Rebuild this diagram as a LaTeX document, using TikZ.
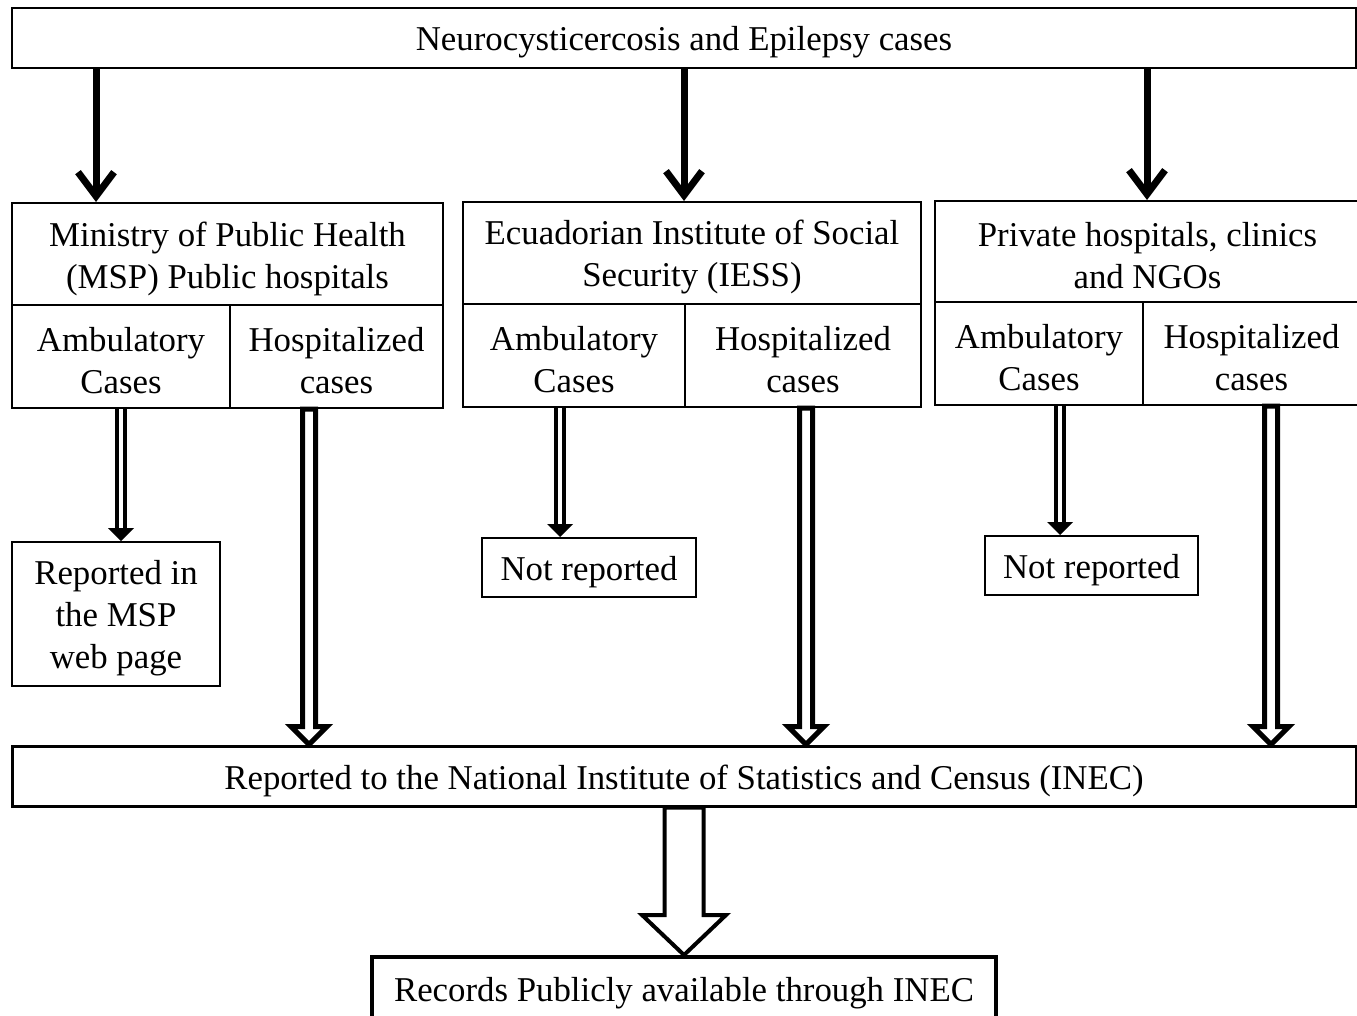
\documentclass[tikz,border=0pt]{standalone}
\usepackage{fontspec}
\setmainfont{Liberation Serif}
\usetikzlibrary{arrows.meta,calc}
\newcommand\diafont{\fontsize{34.8}{42}\selectfont}
% #1 start, #2 end, #3 half shaft, #4 half head, #5 head length, #6 style
\newcommand\blockarrow[6]{%
  \draw[#6] let \p1=(#1), \p2=(#2) in
    (\x1-#3pt,\y1) -- (\x1-#3pt,\y2+#5pt) -- (\x1-#4pt,\y2+#5pt) -- (\x1,\y2)
    -- (\x1+#4pt,\y2+#5pt) -- (\x1+#3pt,\y2+#5pt) -- (\x1+#3pt,\y1) -- cycle;}
\newcommand\smallarrow[2]{%
  \draw[line width=4pt] let \p1=(#1), \p2=(#2) in
    (\x1-4pt,\y1) -- (\x1-4pt,\y2+12pt) (\x1+4pt,\y1) -- (\x1+4pt,\y2+12pt);
  \fill let \p1=(#1), \p2=(#2) in
    (\x1-13pt,\y2+13pt) -- (\x1,\y2) -- (\x1+13pt,\y2+13pt) -- cycle;}
\begin{document}
\begin{tikzpicture}[x=1pt,y=-1pt,
  box/.style={draw, line width=2pt, inner sep=0pt},
  lab/.style={align=center, font=\diafont, inner sep=0pt, yshift=-4.5pt},
  blk/.style={line width=7pt, -{Straight Barb[length=24pt,width=36pt]}},
  hollow/.style={line width=5pt, line join=miter},
  big/.style={line width=4pt, line join=miter}]
\useasboundingbox (0,0) rectangle (1357,1016);
\clip (0,0) rectangle (1357,1016);
\fill[white] (0,0) rectangle (1357,1016);

% boxes
\node[box, minimum width=1344pt, minimum height=60pt,
  label={[lab]center:{Neurocysticercosis and Epilepsy cases}}] (top) at (684,38) {};

\node[box, minimum width=431pt, minimum height=102pt,
  label={[lab]center:{Ministry of Public Health\\(MSP) Public hospitals}}] (msph) at (227.5,254) {};
\node[box, minimum width=218pt, minimum height=103pt,
  label={[lab]center:{Ambulatory\\Cases}}] (mspa) at (121,356.5) {};
\node[box, minimum width=213pt, minimum height=103pt,
  label={[lab]center:{Hospitalized\\cases}}] (msps) at (336.5,356.5) {};

\node[box, minimum width=458pt, minimum height=102pt,
  label={[lab]center:{Ecuadorian Institute of Social\\Security (IESS)}}] (iessh) at (692,253) {};
\node[box, minimum width=222pt, minimum height=103pt,
  label={[lab]center:{Ambulatory\\Cases}}] (iessa) at (574,355.5) {};
\node[box, minimum width=236pt, minimum height=103pt,
  label={[lab]center:{Hospitalized\\cases}}] (iesss) at (803,355.5) {};

\node[box, minimum width=425pt, minimum height=101pt,
  label={[lab]center:{Private hospitals, clinics\\and NGOs}}] (privh) at (1147.5,251.5) {};
\node[box, minimum width=208pt, minimum height=103pt,
  label={[lab]center:{Ambulatory\\Cases}}] (priva) at (1039,353.5) {};
\node[box, minimum width=217pt, minimum height=103pt,
  label={[lab]center:{Hospitalized\\cases}}] (privs) at (1251.5,353.5) {};

\node[box, minimum width=208pt, minimum height=144pt,
  label={[lab]center:{Reported in\\the MSP\\web page}}] (web) at (116,614) {};
\node[box, minimum width=214pt, minimum height=59pt,
  label={[lab]center:{Not reported}}] (nr1) at (589,567.5) {};
\node[box, minimum width=213pt, minimum height=59pt,
  label={[lab]center:{Not reported}}] (nr2) at (1091.5,565.5) {};

\node[box, line width=3pt, minimum width=1344pt, minimum height=60pt,
  label={[lab]center:{Reported to the National Institute of Statistics and Census (INEC)}}] (inec) at (684,776) {};
\node[box, line width=4pt, minimum width=624pt, minimum height=66pt,
  label={[lab, yshift=1.5pt]center:{Records Publicly available through INEC}}] (rec) at (684,990) {};

% black arrows from top box
\coordinate (c1) at (96,0);
\coordinate (c2) at (684,0);
\coordinate (c3) at (1147,0);
\draw[blk] (c1 |- top.south) -- (c1 |- msph.north);
\draw[blk] (c2 |- top.south) -- (c2 |- iessh.north);
\draw[blk] (c3 |- top.south) -- (c3 |- privh.north);

% ambulatory arrows
\coordinate (a1) at (121,0);
\coordinate (a2) at (560,0);
\coordinate (a3) at (1060,0);
\smallarrow{a1 |- mspa.south}{a1 |- web.north}
\smallarrow{a2 |- iessa.south}{a2 |- nr1.north}
\smallarrow{a3 |- priva.south}{a3 |- nr2.north}

% hospitalized arrows
\coordinate (h1) at (309,0);
\coordinate (h2) at (806,0);
\coordinate (h3) at (1271,0);
\blockarrow{h1 |- msps.south}{h1 |- inec.north}{6.5}{18}{18}{hollow}
\blockarrow{h2 |- iesss.south}{h2 |- inec.north}{6.5}{18}{18}{hollow}
\blockarrow{h3 |- privs.south}{h3 |- inec.north}{6.5}{18}{18}{hollow}

% big arrow
\blockarrow{inec.south}{rec.north}{19.5}{42}{40}{big}
\end{tikzpicture}
\end{document}
